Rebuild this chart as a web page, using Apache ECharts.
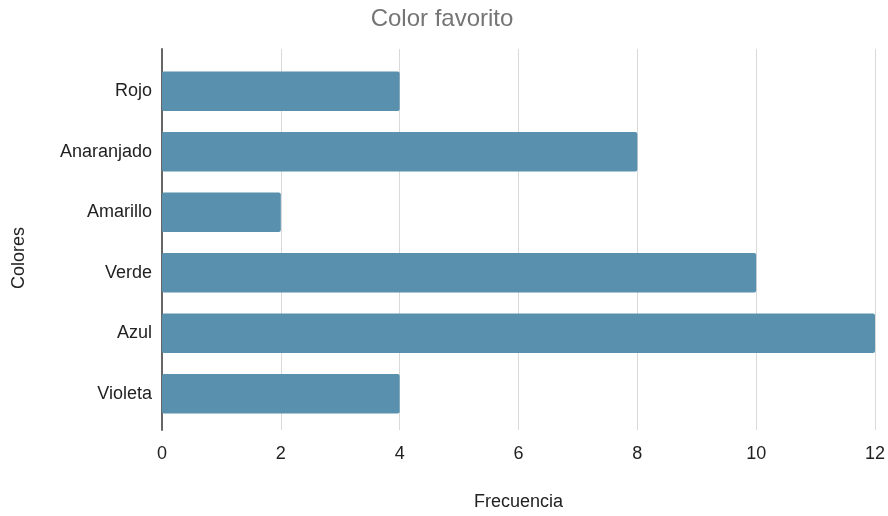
<!DOCTYPE html>
<html><head><meta charset="utf-8">
<script src="https://cdn.jsdelivr.net/npm/echarts@6/dist/echarts.min.js"></script>
<style>html,body{margin:0;padding:0;background:#fff}#c{width:888px;height:516px}</style>
</head><body><div id="c"></div>
<script>
const categories = ['Rojo', 'Anaranjado', 'Amarillo', 'Verde', 'Azul', 'Violeta'];
const frecuencia = [4, 8, 2, 10, 12, 4];
const xTicks = [0, 2, 4, 6, 8, 10, 12];

const font = 'Liberation Sans, Arial, sans-serif';
const chart = echarts.init(document.getElementById('c'), null, {renderer: 'canvas'});
chart.setOption({
  animation: false,
  backgroundColor: '#fff',
  title: {
    text: 'Color favorito', left: 437, top: 2, textAlign: 'center',
    textStyle: {color: '#757575', fontSize: 24, fontWeight: 'normal', fontFamily: font}
  },
  graphic: [{
    type: 'text', x: 10, y: 258, rotation: Math.PI / 2,
    style: {text: 'Colores', fill: '#222', font: '18px ' + font, align: 'center', verticalAlign: 'top'}
  }],
  grid: [
    {left: 162, right: 13, top: 49, bottom: 82},
    {left: 162, right: 13, top: 61, bottom: 92}
  ],
  xAxis: [
    {
      type: 'value', gridIndex: 0, min: 0, max: 12, interval: 2,
      name: 'Frecuencia', nameLocation: 'middle', nameGap: 63,
      nameTextStyle: {color: '#222', fontSize: 18, fontFamily: font},
      axisLine: {show: false}, axisTick: {show: false},
      axisLabel: {color: '#222', fontSize: 18, margin: 15, fontFamily: font,
        formatter: v => xTicks.includes(v) ? String(v) : ''},
      splitLine: {show: true, lineStyle: {color: '#d9d9d9', width: 1}}
    },
    {
      type: 'value', gridIndex: 1, min: 0, max: 12, interval: 2, show: false
    }
  ],
  yAxis: [
    {
      type: 'category', gridIndex: 0, data: [''],
      axisLine: {show: true, lineStyle: {color: '#666', width: 2}},
      axisTick: {show: false}, axisLabel: {show: false}, splitLine: {show: false}
    },
    {
      type: 'category', gridIndex: 1, data: categories, inverse: true,
      axisLine: {show: false}, axisTick: {show: false},
      axisLabel: {color: '#222', fontSize: 18, margin: 10, fontFamily: font},
      splitLine: {show: false}
    }
  ],
  series: [{
    type: 'bar', xAxisIndex: 1, yAxisIndex: 1, data: frecuencia,
    barWidth: '65%',
    itemStyle: {color: '#5990ae', borderRadius: 2}
  }]
});
</script></body></html>
